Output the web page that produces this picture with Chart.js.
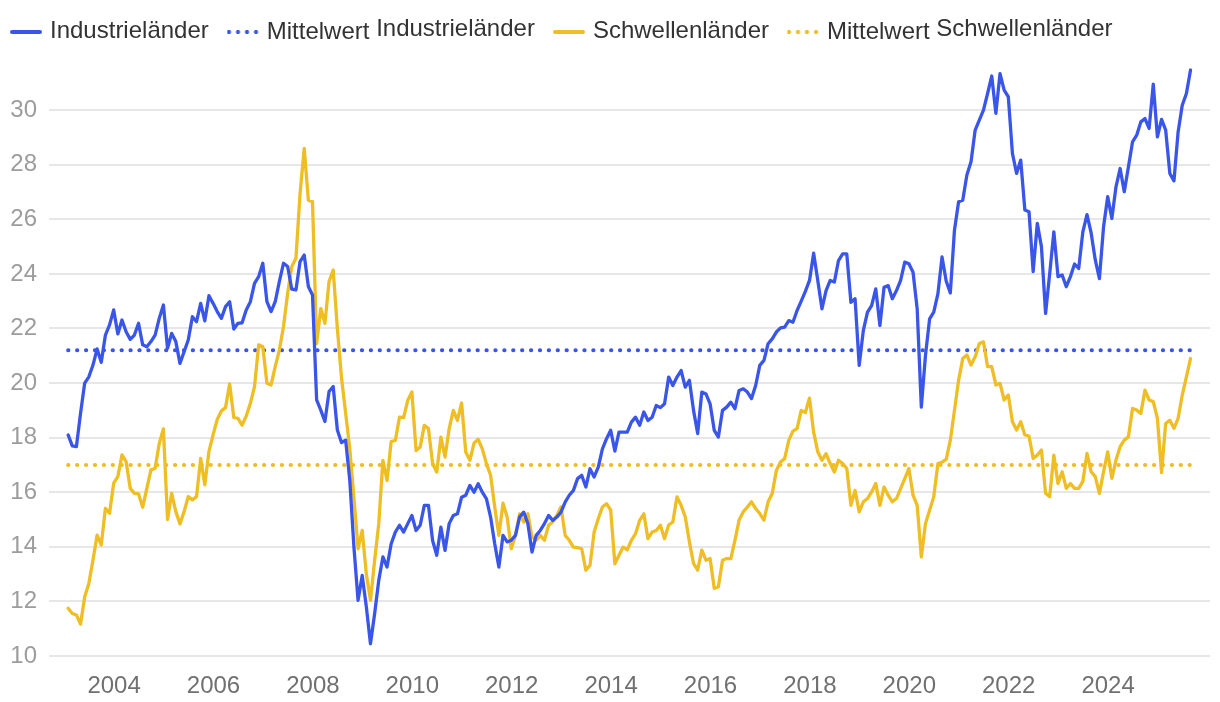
<!DOCTYPE html>
<html>
<head>
<meta charset="utf-8">
<script src="https://cdn.jsdelivr.net/npm/chart.js@4.4.1/dist/chart.umd.min.js"></script>
<style>
  html, body { margin: 0; padding: 0; background: #ffffff; }
  #wrap { position: relative; width: 1220px; height: 702px; overflow: hidden; }
  #c { position: absolute; left: 0; top: 0; }
  #legend { position: absolute; left: 10px; top: 16px; display: flex; white-space: nowrap;
            font-family: "Liberation Sans", Arial, Helvetica, sans-serif; font-size: 24px;
            line-height: 28px; color: #333333; }
  .item { display: flex; align-items: flex-start; margin-right: 18px; }
  .sw { width: 32px; height: 4px; margin-top: 13.5px; margin-right: 8px; flex: none; }
  .w1 { position: relative; top: 1px; }
  .w2 { position: relative; top: -2px; }
</style>
</head>
<body>
<div id="wrap">
  <canvas id="c" width="1220" height="702"></canvas>
  <div id="legend"></div>
</div>
<script>
// ---- data (monthly, starting January 2003) ----
const START_YEAR = 2003;
const START_MONTH = 1;

const SERIES_NAMES = ["Industrieländer", "Mittelwert Industrieländer", "Schwellenländer", "Mittelwert Schwellenländer"];

const INDUSTRIE = [
  18.1, 17.7, 17.67, 18.9, 20.0, 20.23, 20.66, 21.25, 20.76, 21.76, 22.13, 22.68,
  21.8, 22.31, 21.88, 21.6, 21.76, 22.19, 21.4, 21.33, 21.52, 21.76, 22.37, 22.86,
  21.27, 21.82, 21.52, 20.72, 21.15, 21.58, 22.43, 22.25, 22.92, 22.28, 23.2, 22.92,
  22.62, 22.37, 22.8, 22.98, 21.98, 22.19, 22.21, 22.68, 22.98, 23.65, 23.9, 24.39,
  22.98, 22.62, 22.98, 23.72, 24.39, 24.27, 23.44, 23.41, 24.45, 24.69, 23.54, 23.23,
  19.38, 19.01, 18.59, 19.69, 19.87, 18.28, 17.82, 17.91, 16.45, 14.0, 12.04, 12.95,
  11.8, 10.45, 11.55, 12.77, 13.63, 13.26, 14.11, 14.54, 14.79, 14.54, 14.85, 15.15,
  14.6, 14.79, 15.52, 15.52, 14.23, 13.69, 14.72, 13.87, 14.85, 15.15, 15.21, 15.82,
  15.89, 16.25, 16.0, 16.31, 16.0, 15.76, 15.09, 14.11, 13.26, 14.42, 14.18, 14.24,
  14.42, 15.09, 15.27, 14.85, 13.81, 14.42, 14.6, 14.85, 15.15, 14.97, 15.09, 15.27,
  15.64, 15.89, 16.07, 16.5, 16.62, 16.19, 16.86, 16.56, 16.92, 17.59, 17.96, 18.27,
  17.51, 18.2, 18.2, 18.2, 18.57, 18.75, 18.45, 18.94, 18.63, 18.75, 19.18, 19.1,
  19.24, 20.22, 19.91, 20.22, 20.46, 19.85, 20.1, 19.0, 18.15, 19.67, 19.6, 19.24,
  18.27, 18.02, 19.0, 19.12, 19.3, 19.06, 19.73, 19.79, 19.67, 19.43, 19.91, 20.65,
  20.83, 21.44, 21.62, 21.87, 22.02, 22.05, 22.29, 22.23, 22.66, 23.0, 23.36, 23.76,
  24.76, 23.76, 22.72, 23.39, 23.76, 23.7, 24.49, 24.73, 24.73, 22.96, 23.09, 20.65,
  21.93, 22.6, 22.84, 23.45, 22.11, 23.51, 23.57, 23.09, 23.39, 23.76, 24.43, 24.37,
  24.06, 22.72, 19.12, 21.01, 22.35, 22.6, 23.27, 24.62, 23.74, 23.3, 25.6, 26.64,
  26.7, 27.62, 28.11, 29.27, 29.63, 30.0, 30.61, 31.25, 29.88, 31.34, 30.73, 30.49,
  28.41, 27.68, 28.17, 26.34, 26.28, 24.08, 25.85, 25.0, 22.55, 24.02, 25.54, 23.9,
  23.96, 23.53, 23.9, 24.36, 24.2, 25.54, 26.17, 25.5, 24.51, 23.83, 25.73, 26.83,
  26.03, 27.19, 27.86, 27.01, 27.92, 28.84, 29.08, 29.57, 29.69, 29.33, 30.95, 29.02,
  29.66, 29.27, 27.68, 27.41, 29.2, 30.18, 30.61, 31.47
];

const SCHWELLEN = [
  11.75, 11.56, 11.5, 11.17, 12.17, 12.66, 13.52, 14.43, 14.07, 15.41, 15.23, 16.33,
  16.57, 17.37, 17.12, 16.14, 15.96, 15.94, 15.45, 16.14, 16.82, 16.88, 17.79, 18.32,
  15.0, 15.96, 15.29, 14.84, 15.29, 15.84, 15.72, 15.84, 17.24, 16.27, 17.5, 18.1,
  18.67, 18.98, 19.1, 19.97, 18.74, 18.71, 18.46, 18.79, 19.26, 19.87, 21.4, 21.33,
  19.99, 19.93, 20.6, 21.21, 22.07, 23.29, 24.27, 24.57, 26.95, 28.6, 26.7, 26.65,
  21.45, 22.73, 22.19, 23.72, 24.14, 22.0, 20.2, 18.9, 17.6, 15.8, 13.93, 14.6,
  13.0, 12.04, 13.5, 14.85, 17.17, 16.43, 17.86, 17.9, 18.75, 18.73, 19.37, 19.67,
  17.53, 17.66, 18.45, 18.33, 17.05, 16.74, 18.02, 17.29, 18.33, 19.0, 18.63, 19.27,
  17.47, 17.17, 17.8, 17.94, 17.59, 17.05, 16.62, 15.46, 14.42, 15.6, 15.09, 13.93,
  14.42, 15.21, 14.91, 15.21, 14.36, 14.24, 14.42, 14.24, 14.79, 14.91, 15.15, 15.46,
  14.42, 14.24, 13.99, 13.97, 13.93, 13.14, 13.32, 14.54, 15.03, 15.46, 15.58, 15.34,
  13.38, 13.69, 13.99, 13.89, 14.24, 14.48, 14.97, 15.21, 14.3, 14.54, 14.6, 14.79,
  14.3, 14.8, 14.91, 15.83, 15.52, 15.1, 14.18, 13.39, 13.15, 13.88, 13.51, 13.57,
  12.48, 12.54, 13.51, 13.57, 13.57, 14.24, 14.98, 15.28, 15.46, 15.65, 15.4, 15.22,
  14.98, 15.65, 15.95, 16.8, 17.11, 17.23, 17.9, 18.24, 18.33, 19.0, 18.92, 19.45,
  18.2, 17.48, 17.17, 17.41, 17.05, 16.74, 17.17, 17.05, 16.87, 15.52, 16.07, 15.28,
  15.65, 15.77, 16.01, 16.32, 15.52, 16.19, 15.89, 15.65, 15.77, 16.13, 16.5, 16.87,
  15.89, 15.52, 13.63, 14.85, 15.34, 15.83, 17.05, 17.1, 17.2, 17.9, 19.0, 20.1,
  20.9, 21.03, 20.66, 20.96, 21.45, 21.51, 20.6, 20.6, 19.93, 19.99, 19.38, 19.56,
  18.58, 18.28, 18.58, 18.1, 18.06, 17.24, 17.36, 17.55, 15.96, 15.84, 17.36, 16.32,
  16.75, 16.14, 16.32, 16.14, 16.14, 16.4, 17.42, 16.75, 16.57, 15.96, 16.75, 17.48,
  16.51, 17.18, 17.67, 17.91, 18.03, 19.07, 19.01, 18.89, 19.74, 19.38, 19.32, 18.71,
  16.72, 18.52, 18.64, 18.34, 18.71, 19.56, 20.23, 20.9
];

const MITTEL_INDUSTRIE = 21.2;
const MITTEL_SCHWELLEN = 17.0;

const X_TICKS = [2004, 2006, 2008, 2010, 2012, 2014, 2016, 2018, 2020, 2022, 2024];
const Y_TICKS = [10, 12, 14, 16, 18, 20, 22, 24, 26, 28, 30];

// ---- build chart inputs ----
const BLUE = '#3a56e8';
const YELLOW = '#efbd24';

// month-end position of each monthly observation, as decimal year
const MONTHS = INDUSTRIE.map((_, i) => START_YEAR + (START_MONTH - 1 + i + 0.9) / 12);
const toPoints = arr => arr.map((v, i) => ({ x: MONTHS[i], y: v }));
const meanPoints = m => [{ x: MONTHS[0], y: m }, { x: MONTHS[MONTHS.length - 1], y: m }];

const FONT = '"Liberation Sans", Arial, Helvetica, sans-serif';

const chart = new Chart(document.getElementById('c'), {
  type: 'line',
  data: {
    datasets: [
      { label: SERIES_NAMES[0], data: toPoints(INDUSTRIE), borderColor: BLUE, backgroundColor: BLUE,
        borderWidth: 3.3, pointRadius: 0, tension: 0, borderJoinStyle: 'round', borderCapStyle: 'round', order: 1 },
      { label: SERIES_NAMES[1], data: meanPoints(MITTEL_INDUSTRIE), borderColor: BLUE, backgroundColor: BLUE,
        borderWidth: 4, borderDash: [0.3, 8.6], borderCapStyle: 'round', pointRadius: 0, order: 3 },
      { label: SERIES_NAMES[2], data: toPoints(SCHWELLEN), borderColor: YELLOW, backgroundColor: YELLOW,
        borderWidth: 3.3, pointRadius: 0, tension: 0, borderJoinStyle: 'round', borderCapStyle: 'round', order: 2 },
      { label: SERIES_NAMES[3], data: meanPoints(MITTEL_SCHWELLEN), borderColor: YELLOW, backgroundColor: YELLOW,
        borderWidth: 4, borderDash: [0.3, 8.6], borderCapStyle: 'round', pointRadius: 0, order: 4 }
    ]
  },
  options: {
    responsive: false,
    animation: false,
    events: [],
    layout: { padding: { top: 61, right: 10, left: 0, bottom: 0 } },
    plugins: { legend: { display: false }, tooltip: { enabled: false } },
    scales: {
      x: {
        type: 'linear',
        min: 2002.69,
        max: 2026.05,
        grid: { display: false },
        border: { display: false },
        afterBuildTicks: s => { s.ticks = X_TICKS.map(v => ({ value: v })); },
        afterFit: s => { s.height = 46; },
        ticks: {
          autoSkip: false, maxRotation: 0, padding: 8, color: '#707070',
          font: { family: FONT, size: 24 },
          callback: v => String(v)
        }
      },
      y: {
        min: 10,
        max: 31.8,
        grid: { color: '#e7e7e7', lineWidth: 2, drawTicks: false },
        border: { display: false },
        afterBuildTicks: s => { s.ticks = Y_TICKS.map(v => ({ value: v })); },
        afterFit: s => { s.width = 49; },
        ticks: {
          padding: 12, color: '#9c9c9c',
          font: { family: FONT, size: 24 },
          callback: v => String(v)
        }
      }
    }
  }
});

// ---- HTML legend built from the chart's datasets ----
(function buildLegend() {
  const el = document.getElementById('legend');
  chart.data.datasets.forEach(ds => {
    const item = document.createElement('div');
    item.className = 'item';
    const sw = document.createElement('div');
    sw.className = 'sw';
    if (ds.borderDash && ds.borderDash.length) {
      sw.style.background = 'radial-gradient(circle, ' + ds.borderColor + ' 1.8px, rgba(255,255,255,0) 2.3px) -2.5px 0 / 9px 4px repeat-x';
    } else {
      sw.style.background = ds.borderColor;
      sw.style.borderRadius = '2px';
    }
    item.appendChild(sw);
    const txt = document.createElement('span');
    const idx = ds.label.indexOf(' ');
    if (idx > 0) {
      const a = document.createElement('span'); a.className = 'w1'; a.textContent = ds.label.slice(0, idx);
      const b = document.createElement('span'); b.className = 'w2'; b.textContent = ds.label.slice(idx + 1);
      txt.appendChild(a); txt.appendChild(document.createTextNode(' ')); txt.appendChild(b);
    } else {
      txt.textContent = ds.label;
    }
    item.appendChild(txt);
    el.appendChild(item);
  });
})();
</script>
</body>
</html>
